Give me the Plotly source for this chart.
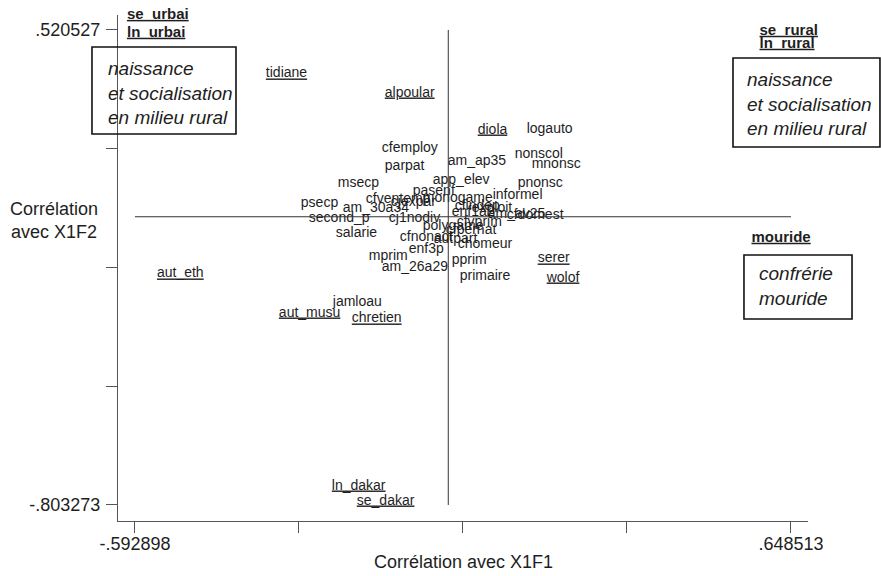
import plotly.graph_objects as go

# ---- data -----------------------------------------------------------------
labels = [
    "se_urbai", "ln_urbai", "tidiane", "alpoular", "diola", "logauto",
    "cfemploy", "am_ap35", "nonscol", "mnonsc", "parpat", "msecp",
    "app_elev", "pnonsc", "pasenf", "informel", "psecp", "cfventemp",
    "monogame", "cjexpar", "am_30a34", "second_p", "cj1nodiv", "salarie",
    "polygame", "cfnonact", "autpart", "chomeur", "enf3p", "mprim",
    "pprim", "am_26a29", "primaire", "serer", "wolof", "aut_eth",
    "jamloau", "aut_musu", "chretien", "ln_dakar", "se_dakar",
    "se_rural", "ln_rural", "mouride",
    "cfindep", "exploit", "enf1a2", "am_av25", "cfdomest", "cfvprim", "cfpernat",
]
x_f1 = [
    -0.6080, -0.6080, -0.3452, -0.1201, 0.0557, 0.1484,
    -0.1258, -0.0010, 0.1257, 0.1578, -0.1201, -0.2090,
    -0.0294, 0.1314, -0.0672, 0.0841, -0.2790, -0.1561,
    -0.0483, -0.1088, -0.1996, -0.2639, -0.1126, -0.2128,
    -0.0483, -0.0918, -0.0275, 0.0179, -0.0748, -0.1504,
    0.0065, -0.1258, 0.0217, 0.1692, 0.1862, -0.5513,
    -0.2185, -0.3206, -0.1826, -0.2204, -0.1731,
    0.5890, 0.5890, 0.5738,
    0.0122, 0.0444, 0.0065, 0.0746, 0.1106, 0.0160, -0.0048,
]
y_f2 = [
    0.5620, 0.5122, 0.3979, 0.3449, 0.2418, 0.2446,
    0.1916, 0.1554, 0.1749, 0.1470, 0.1387, 0.0941,
    0.0997, 0.0941, 0.0718, 0.0606, 0.0383, 0.0495,
    0.0523, 0.0411, 0.0244, -0.0062, -0.0062, -0.0453,
    -0.0285, -0.0564, -0.0620, -0.0759, -0.0899, -0.1094,
    -0.1205, -0.1400, -0.1651, -0.1177, -0.1707, -0.1595,
    -0.2376, -0.2682, -0.2849, -0.7504, -0.7922,
    0.5177, 0.4815, -0.0592,
    0.0300, 0.0244, 0.0105, 0.0077, 0.0049, -0.0146, -0.0369,
]
# style: 0 = plain, 1 = underlined, 2 = bold underlined
label_style = [
    2, 2, 1, 1, 1, 0,
    0, 0, 0, 0, 0, 0,
    0, 0, 0, 0, 0, 0,
    0, 0, 0, 0, 0, 0,
    0, 0, 0, 0, 0, 0,
    0, 0, 0, 1, 1, 1,
    0, 1, 1, 1, 1,
    2, 2, 2,
    0, 0, 0, 0, 0, 0, 0,
]

x_tickvals = [-0.592898, -0.282545, 0.027808, 0.338160, 0.648513]
x_ticktext = ["-.592898", "", "", "", ".648513"]
y_tickvals = [0.520527, 0.189577, -0.141373, -0.472323, -0.803273]
y_ticktext = [".520527", "", "", "", "-.803273"]

x_title = "Corrélation avec X1F1"
y_title = "Corrélation<br>avec X1F2"
box_texts = [
    "naissance<br>et socialisation<br>en milieu rural",
    "naissance<br>et socialisation<br>en milieu rural",
    "confrérie<br>mouride",
]

# ---- figure ---------------------------------------------------------------
FONT = "Liberation Sans, Arial, Helvetica, sans-serif"
TXT = "#1e1e1e"

fig = go.Figure()

style_fmt = {0: "{}", 1: "<u>{}</u>", 2: "<b><u>{}</u></b>"}
style_size = {0: 14, 1: 14, 2: 15}
for s in (0, 1, 2):
    idx = [i for i, st in enumerate(label_style) if st == s]
    fig.add_trace(go.Scatter(
        x=[x_f1[i] for i in idx],
        y=[y_f2[i] for i in idx],
        text=[style_fmt[s].format(labels[i]) for i in idx],
        mode="text",
        textposition="middle right",
        textfont=dict(family=FONT, size=style_size[s], color=TXT),
        cliponaxis=False,
        hoverinfo="skip",
        showlegend=False,
    ))

# reference lines at 0 spanning the tick extremes
fig.add_shape(type="line", xref="x", yref="y",
              x0=x_tickvals[0], x1=x_tickvals[-1], y0=0, y1=0,
              line=dict(color="#333", width=1))
fig.add_shape(type="line", xref="x", yref="y",
              x0=0, x1=0, y0=y_tickvals[-1], y1=y_tickvals[0],
              line=dict(color="#333", width=1))

# boxes (paper coords)
boxes = [
    dict(x0=-0.0377, x1=0.1710, y0=0.7648, y1=0.9368, tx=-0.0174, ty=0.8458),
    dict(x0=0.8913, x1=1.1043, y0=0.7391, y1=0.9150, tx=0.9087, ty=0.8241),
    dict(x0=0.9072, x1=1.0638, y0=0.3992, y1=0.5257, tx=0.9261, ty=0.4644),
]
for b, t in zip(boxes, box_texts):
    fig.add_shape(type="rect", xref="paper", yref="paper",
                  x0=b["x0"], x1=b["x1"], y0=b["y0"], y1=b["y1"],
                  line=dict(color="#111", width=1.6), fillcolor="rgba(0,0,0,0)")
    fig.add_annotation(xref="paper", yref="paper", x=b["tx"], y=b["ty"],
                       xanchor="left", yanchor="middle", align="left",
                       text="<i>" + t + "</i>", showarrow=False,
                       font=dict(family=FONT, size=19, color=TXT))

fig.add_annotation(xref="paper", yref="paper", x=-0.0928, y=0.593,
                   xanchor="center", yanchor="middle", align="center",
                   text=y_title, showarrow=False,
                   font=dict(family=FONT, size=18, color=TXT))
fig.add_annotation(xref="paper", yref="paper", x=0.5, y=-0.081,
                   xanchor="center", yanchor="middle", align="center",
                   text=x_title, showarrow=False,
                   font=dict(family=FONT, size=18, color=TXT))

axis_common = dict(showgrid=False, zeroline=False, showline=True,
                   linecolor="#555", linewidth=1.2, ticks="outside",
                   ticklen=11, tickcolor="#555", tickwidth=1.2,
                   automargin=False,
                   tickfont=dict(family=FONT, size=18, color=TXT))

fig.update_layout(
    width=881, height=576,
    margin=dict(l=118, r=73, t=15, b=55, autoexpand=False),
    paper_bgcolor="white", plot_bgcolor="white",
    xaxis=dict(range=[-0.6250, 0.6807], tickvals=x_tickvals, ticktext=x_ticktext,
               ticklabelstandoff=-5, **axis_common),
    yaxis=dict(range=[-0.8479, 0.5623], tickvals=y_tickvals, ticktext=y_ticktext,
               ticklabelstandoff=2, **axis_common),
)

fig.write_html("out.html")
